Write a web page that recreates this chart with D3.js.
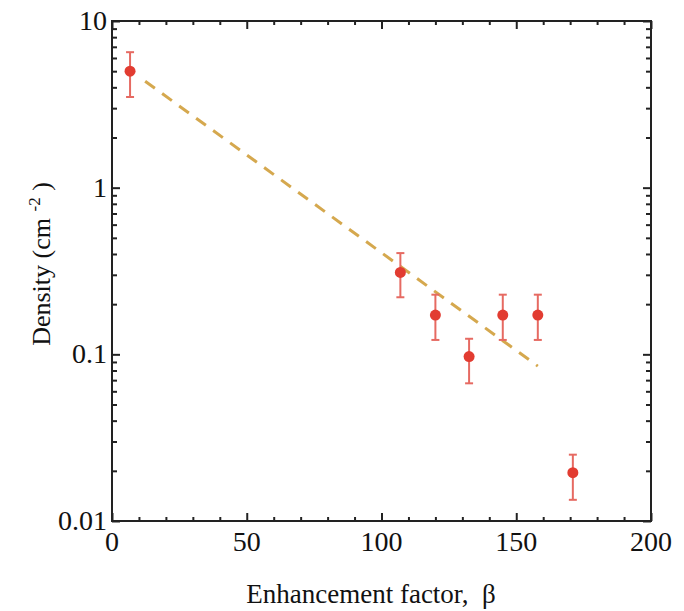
<!DOCTYPE html>
<html>
<head>
<meta charset="utf-8">
<script src="https://cdn.jsdelivr.net/npm/d3@7"></script>
<style>
  body { margin: 0; background: #fff; }
  text { font-family: "Liberation Serif", "Times New Roman", serif; fill: #111; white-space: pre; }
</style>
</head>
<body>
<div id="chart"></div>
<script>
// measured points
const beta = [6.7, 107, 120, 132.5, 145, 158, 171];
const density = [5.0, 0.31, 0.172, 0.097, 0.172, 0.172, 0.0195];
const errHi = [6.5, 0.405, 0.228, 0.124, 0.228, 0.228, 0.025];
const errLo = [3.5, 0.22, 0.122, 0.067, 0.122, 0.122, 0.0134];

// dashed fit line end points
const fitBeta = [12.3, 158];
const fitDensity = [4.35, 0.085];

const xTicks = [0, 50, 100, 150, 200];
const yTicks = [0.01, 0.1, 1, 10];
const yTickLabels = ["0.01", "0.1", "1", "10"];

(function chart() {
  let width = 684, height = 611,
      margin = { top: 21, right: 33, bottom: 90, left: 112 };

  const svg = d3.select("#chart").append("svg")
    .attr("width", width).attr("height", height);

  let x = d3.scaleLinear().domain([0, 200]).range([margin.left, width - margin.right]);
  let y = d3.scaleLog().domain([0.01, 10]).range([height - margin.bottom, margin.top]);

  let minorX = d3.range(0, 201, 10);
  let minorY = [];
  for (let e = -2; e < 1; e++) for (let k = 2; k < 10; k++) minorY.push(k * Math.pow(10, e));

  const axisColor = "#222";

  // ticks on all four sides, pointing in
  function ticks(axisFn, scale, vals, size, tx, ty) {
    svg.append("g")
      .attr("transform", `translate(${tx},${ty})`)
      .call(axisFn(scale).tickValues(vals).tickSize(size).tickFormat(""))
      .call(g => g.select(".domain").remove())
      .call(g => g.selectAll("line").attr("stroke", axisColor).attr("stroke-width", 2));
  }
  let bottomY = height - margin.bottom, rightX = width - margin.right;
  ticks(d3.axisTop, x, minorX.filter(d => d % 50 != 0), 4, 0, bottomY);
  ticks(d3.axisTop, x, xTicks, 8, 0, bottomY);
  ticks(d3.axisBottom, x, minorX.filter(d => d % 50 != 0), 4, 0, margin.top);
  ticks(d3.axisBottom, x, xTicks, 8, 0, margin.top);
  ticks(d3.axisRight, y, minorY, 5, margin.left, 0);
  ticks(d3.axisRight, y, yTicks, 8, margin.left, 0);
  ticks(d3.axisLeft, y, minorY, 5, rightX, 0);
  ticks(d3.axisLeft, y, yTicks, 8, rightX, 0);

  svg.append("rect")
    .attr("x", margin.left).attr("y", margin.top)
    .attr("width", rightX - margin.left).attr("height", bottomY - margin.top)
    .attr("fill", "none").attr("stroke", axisColor).attr("stroke-width", 2);

  // tick labels
  svg.append("g").selectAll("text").data(xTicks).join("text")
    .attr("x", d => x(d)).attr("y", bottomY + 30)
    .attr("text-anchor", "middle").attr("font-size", 28)
    .text(d => d);

  svg.append("g").selectAll("text").data(yTicks).join("text")
    .attr("x", margin.left - 5).attr("y", d => y(d) + 9)
    .attr("text-anchor", "end").attr("font-size", 28)
    .text((d, i) => yTickLabels[i]);

  // axis titles
  svg.append("text")
    .attr("x", 371).attr("y", 603)
    .attr("text-anchor", "middle").attr("font-size", 27)
    .text("Enhancement factor,  β");

  let yl = svg.append("text")
    .attr("transform", `translate(50,${(margin.top + bottomY) / 2 - 7}) rotate(-90)`)
    .attr("text-anchor", "middle").attr("font-size", 26);
  yl.append("tspan").text("Density (cm ");
  yl.append("tspan").attr("dy", -10).attr("font-size", 17).text("-2");
  yl.append("tspan").attr("dy", 10).text(" )");

  // fit line
  let fit = fitBeta.map((b, i) => [b, fitDensity[i]]);
  svg.append("path")
    .datum(fit)
    .attr("fill", "none")
    .attr("stroke", "#d5a84e")
    .attr("stroke-width", 3)
    .attr("stroke-dasharray", "12,9")
    .attr("d", d3.line().x(d => x(d[0])).y(d => y(d[1])));

  // error bars + points
  let pts = beta.map((b, i) => ({ b, v: density[i], hi: errHi[i], lo: errLo[i] }));
  let eb = svg.append("g").attr("stroke", "#e66a62").attr("stroke-width", 2);
  eb.selectAll(".bar").data(pts).join("line")
    .attr("x1", d => x(d.b)).attr("x2", d => x(d.b))
    .attr("y1", d => y(d.hi)).attr("y2", d => y(d.lo));
  eb.selectAll(".capHi").data(pts).join("line").attr("class", "capHi")
    .attr("x1", d => x(d.b) - 4).attr("x2", d => x(d.b) + 4)
    .attr("y1", d => y(d.hi)).attr("y2", d => y(d.hi));
  eb.selectAll(".capLo").data(pts).join("line").attr("class", "capLo")
    .attr("x1", d => x(d.b) - 4).attr("x2", d => x(d.b) + 4)
    .attr("y1", d => y(d.lo)).attr("y2", d => y(d.lo));

  svg.append("g").selectAll("circle").data(pts).join("circle")
    .attr("cx", d => x(d.b)).attr("cy", d => y(d.v))
    .attr("r", 5.5).attr("fill", "#e23c31");
})();
</script>
</body>
</html>
